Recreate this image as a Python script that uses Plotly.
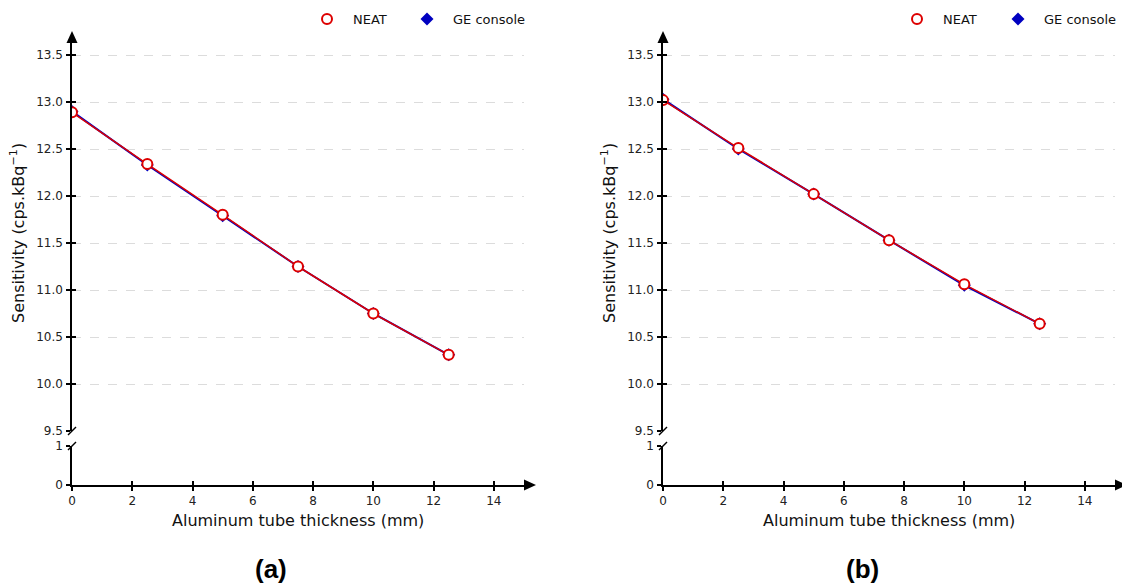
import plotly.graph_objects as go

W, H = 1122, 587

# ---------------- data ----------------
thickness = [0, 2.5, 5, 7.5, 10, 12.5]
neat_a = [12.89, 12.34, 11.80, 11.25, 10.75, 10.31]
ge_a = [12.90, 12.33, 11.79, 11.25, 10.75, 10.31]
neat_b = [13.02, 12.51, 12.02, 11.53, 11.06, 10.64]
ge_b = [13.03, 12.50, 12.02, 11.53, 11.05, 10.64]
y_upper_ticks = [9.5, 10.0, 10.5, 11.0, 11.5, 12.0, 12.5, 13.0, 13.5]
y_lower_ticks = [0, 1]
x_ticks = [0, 2, 4, 6, 8, 10, 12, 14]
panel_labels = ["(a)", "(b)"]
x_title = "Aluminum tube thickness (mm)"
y_title = "Sensitivity (cps.kBq<sup>−1</sup>)"

RED = "#dd0000"
BLUE = "#0000c0"
FONT = "DejaVu Sans"


def px(x):
    return x / W


def py(y):
    return 1 - y / H


panels = [
    dict(x0=72, x1=524, data=(neat_a, ge_a), legs=("legend", "legend3"),
         leg_right=(392, 531)),
    dict(x0=663, x1=1115, data=(neat_b, ge_b), legs=("legend2", "legend4"),
         leg_right=(982, 1122)),
]
UP_BOT, UP_TOP = 431, 43
LO_BOT, LO_TOP = 485, 446
up_range = [9.5, 13.5 + (55 - UP_TOP) / 94.0]

fig = go.Figure()
layout = {}
shapes = []
annotations = []
TICKFONT = dict(family=FONT, size=12, color="#222")


def nm(a, k):
    return a + ("" if k == 1 else str(k))


for i, p in enumerate(panels):
    xa = 1 + 2 * i
    xo = 2 + 2 * i
    ylo = 1 + 4 * i
    yup = 2 + 4 * i
    ylo_o = 3 + 4 * i
    yup_o = 4 + 4 * i

    xdom = [px(p["x0"]), px(p["x1"])]
    layout[nm("xaxis", xa)] = dict(
        domain=xdom, range=[0, 15], anchor=nm("y", ylo), tickvals=x_ticks,
        ticks="outside", ticklen=4, tickwidth=1.5, tickcolor="black",
        showline=True, linecolor="black", linewidth=1.5, showgrid=False,
        zeroline=False, tickfont=TICKFONT, ticklabelstandoff=0, automargin=False,
    )
    layout[nm("xaxis", xo)] = dict(
        overlaying=nm("x", xa), range=[0, 15], anchor=nm("y", ylo), tickvals=x_ticks,
        ticks="inside", ticklen=4, tickwidth=1.5, tickcolor="black",
        showticklabels=False, showline=False, showgrid=False, zeroline=False,
    )
    layout[nm("yaxis", ylo)] = dict(
        domain=[py(LO_BOT), py(LO_TOP)], range=[0, 1], anchor=nm("x", xa),
        tickvals=y_lower_ticks, ticks="outside", ticklen=4, tickwidth=1.5,
        tickcolor="black", showline=True, linecolor="black", linewidth=1.5,
        showgrid=True, gridcolor="#dcdcdc", griddash="dash", gridwidth=1,
        zeroline=False, tickfont=TICKFONT, ticklabelstandoff=1, automargin=False,
    )
    layout[nm("yaxis", ylo_o)] = dict(
        overlaying=nm("y", ylo), range=[0, 1], anchor=nm("x", xa),
        tickvals=y_lower_ticks, ticks="inside", ticklen=4, tickwidth=1.5,
        tickcolor="black", showticklabels=False, showline=False, showgrid=False,
        zeroline=False,
    )
    layout[nm("yaxis", yup)] = dict(
        domain=[py(UP_BOT), py(UP_TOP)], range=up_range, anchor=nm("x", xa),
        tickvals=y_upper_ticks, tickformat=".1f", ticks="outside", ticklen=4,
        tickwidth=1.5, tickcolor="black", showline=True, linecolor="black",
        linewidth=1.5, showgrid=True, gridcolor="#dcdcdc", griddash="dash",
        gridwidth=1, zeroline=False, tickfont=TICKFONT, ticklabelstandoff=1,
        automargin=False,
    )
    layout[nm("yaxis", yup_o)] = dict(
        overlaying=nm("y", yup), range=up_range, anchor=nm("x", xa),
        tickvals=y_upper_ticks, ticks="inside", ticklen=4, tickwidth=1.5,
        tickcolor="black", showticklabels=False, showline=False, showgrid=False,
        zeroline=False,
    )

    neat, ge = p["data"]
    xr, yr = nm("x", xa), nm("y", yup)
    fig.add_trace(go.Scatter(x=thickness, y=ge, mode="lines", xaxis=xr, yaxis=yr,
                             line=dict(color=BLUE, width=2.0), showlegend=False,
                             hoverinfo="skip"))
    fig.add_trace(go.Scatter(x=thickness, y=neat, mode="lines", xaxis=xr, yaxis=yr,
                             line=dict(color=RED, width=1.5), showlegend=False,
                             hoverinfo="skip"))
    fig.add_trace(go.Scatter(x=thickness, y=ge, mode="markers", xaxis=xr, yaxis=yr,
                             name="GE console", legend=p["legs"][1],
                             marker=dict(symbol="diamond", size=10, color=BLUE,
                                         line=dict(width=0))))
    fig.add_trace(go.Scatter(x=thickness, y=neat, mode="markers", xaxis=xr, yaxis=yr,
                             name="NEAT", legend=p["legs"][0],
                             marker=dict(symbol="circle", size=10, color="white",
                                         line=dict(width=2, color=RED))))
    fig.add_trace(go.Scatter(x=[None], y=[None], xaxis=nm("x", xo), yaxis=nm("y", ylo),
                             showlegend=False, hoverinfo="skip"))
    fig.add_trace(go.Scatter(x=[None], y=[None], xaxis=xr, yaxis=nm("y", ylo_o),
                             showlegend=False, hoverinfo="skip"))
    fig.add_trace(go.Scatter(x=[None], y=[None], xaxis=xr, yaxis=nm("y", yup_o),
                             showlegend=False, hoverinfo="skip"))

    x0, x1 = p["x0"], p["x1"]
    shapes.append(dict(type="path", xref="paper", yref="paper",
                       path=f"M {px(x0)},{py(UP_TOP - 12)} L {px(x0 - 5.5)},{py(UP_TOP)} "
                            f"L {px(x0 + 5.5)},{py(UP_TOP)} Z",
                       fillcolor="black", line=dict(width=0)))
    shapes.append(dict(type="path", xref="paper", yref="paper",
                       path=f"M {px(x1 + 12)},{py(LO_BOT)} L {px(x1)},{py(LO_BOT - 5.5)} "
                            f"L {px(x1)},{py(LO_BOT + 5.5)} Z",
                       fillcolor="black", line=dict(width=0)))
    for yb in (UP_BOT, LO_TOP):
        shapes.append(dict(type="line", xref="paper", yref="paper",
                           x0=px(x0 - 4), y0=py(yb + 4), x1=px(x0 + 4), y1=py(yb - 4),
                           line=dict(color="black", width=1.5)))
    cx = (x0 + x1) / 2
    annotations.append(dict(text=x_title, xref="paper", yref="paper", x=px(cx),
                            y=py(520), showarrow=False, xanchor="center",
                            yanchor="middle", font=dict(family=FONT, size=16, color="#111")))
    annotations.append(dict(text=y_title, xref="paper", yref="paper", x=px(x0 - 54),
                            y=py(233), showarrow=False, textangle=-90, xanchor="center",
                            yanchor="middle", font=dict(family=FONT, size=16, color="#111")))
    annotations.append(dict(text=f"<b>{panel_labels[i]}</b>", xref="paper", yref="paper",
                            x=px(cx - 27), y=py(569), showarrow=False, xanchor="center",
                            yanchor="middle",
                            font=dict(family="Liberation Sans", size=26, color="black")))
    for leg, right in zip(p["legs"], p["leg_right"]):
        layout[leg] = dict(orientation="h", x=px(right), xanchor="right",
                           y=py(19), yanchor="middle", bgcolor="rgba(0,0,0,0)",
                           font=dict(family=FONT, size=13, color="#111"),
                           itemwidth=42)

fig.update_layout(**layout)
fig.update_layout(width=W, height=H,
                  margin=dict(l=0, r=0, t=0, b=0, pad=0, autoexpand=False),
                  plot_bgcolor="white", paper_bgcolor="white",
                  shapes=shapes, annotations=annotations, showlegend=True)

fig.write_html("out.html", config={"displayModeBar": False},
               post_script="document.body.style.margin='0';document.body.style.overflow='hidden';")
